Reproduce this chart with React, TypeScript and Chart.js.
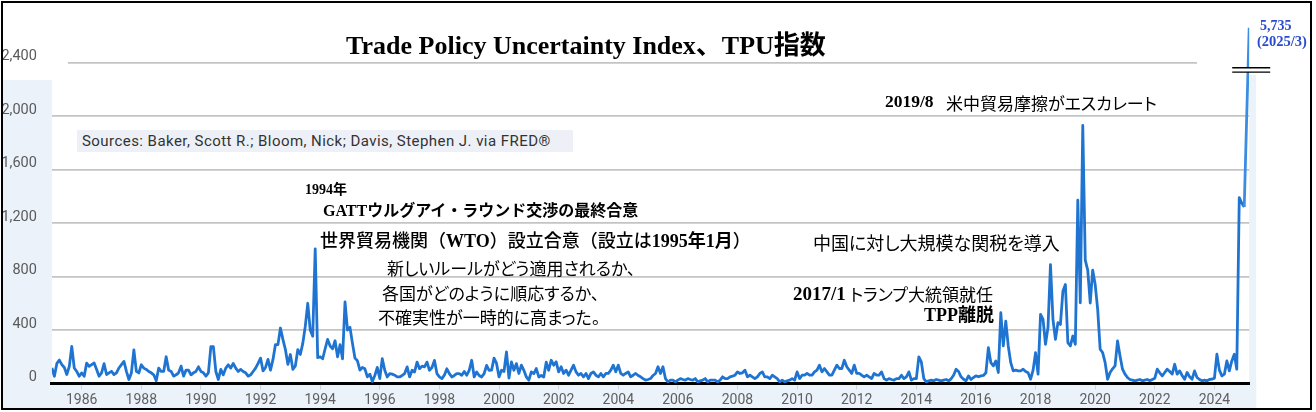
import React, { useEffect, useRef } from "react";
import { Chart, registerables } from "chart.js";

Chart.register(...registerables);

// ---- Data: monthly Trade Policy Uncertainty index ----
const START_YEAR = 1985;
const Y1985 = [116, 54, 150, 175, 141, 120, 67, 128, 277, 116, 90, 54];
const Y1986 = [79, 54, 153, 128, 141, 153, 104, 54, 79, 148, 67, 79];
const Y1987 = [91, 67, 79, 116, 141, 165, 91, 30, 79, 252, 91, 79];
const Y1988 = [140, 115, 105, 90, 80, 65, 20, 115, 90, 90, 200, 100];
const Y1989 = [90, 55, 65, 80, 130, 55, 100, 100, 65, 80, 90, 125];
const Y1990 = [90, 80, 55, 80, 275, 275, 90, 30, 105, 65, 115, 140];
const Y1991 = [115, 150, 115, 90, 105, 90, 80, 55, 65, 90, 115, 150];
const Y1992 = [190, 94, 120, 180, 100, 180, 291, 291, 415, 330, 254, 143];
const Y1993 = [217, 106, 131, 254, 217, 300, 427, 600, 400, 353, 1007, 193];
const Y1994 = [200, 185, 260, 330, 280, 260, 320, 200, 290, 185, 610, 400];
const Y1995 = [420, 300, 190, 170, 100, 120, 110, 50, 70, 15, 60, 120];
const Y1996 = [37, 185, 99, 49, 74, 70, 62, 49, 49, 60, 74, 124];
const Y1997 = [49, 99, 86, 160, 111, 130, 124, 160, 99, 120, 173, 74];
const Y1998 = [49, 37, 62, 110, 74, 49, 60, 74, 74, 62, 90, 62];
const Y1999 = [99, 174, 49, 86, 60, 49, 74, 136, 99, 100, 190, 150];
const Y2000 = [49, 99, 90, 237, 40, 162, 99, 149, 75, 137, 99, 49];
const Y2001 = [25, 87, 74, 112, 49, 60, 49, 160, 99, 174, 137, 162];
const Y2002 = [87, 125, 75, 100, 62, 100, 137, 87, 62, 75, 50, 75];
const Y2003 = [37, 75, 87, 62, 50, 75, 50, 75, 75, 100, 137, 87];
const Y2004 = [137, 75, 62, 75, 87, 50, 62, 75, 60, 50, 37, 25];
const Y2005 = [30, 37, 60, 75, 125, 75, 125, 37, 12, 25, 25, 12];
const Y2006 = [25, 37, 30, 25, 37, 30, 25, 37, 12, 20, 25, 37];
const Y2007 = [12, 25, 25, 25, 12, 25, 50, 37, 37, 50, 55, 62];
const Y2008 = [87, 75, 80, 100, 50, 62, 50, 37, 50, 75, 87, 50];
const Y2009 = [50, 37, 62, 50, 37, 12, 25, 12, 20, 25, 37, 25];
const Y2010 = [87, 37, 62, 62, 75, 62, 62, 87, 100, 137, 87, 112];
const Y2011 = [87, 62, 62, 100, 137, 112, 112, 174, 125, 100, 75, 137];
const Y2012 = [75, 75, 62, 50, 62, 50, 37, 75, 62, 62, 87, 37];
const Y2013 = [25, 37, 30, 25, 37, 37, 62, 37, 50, 87, 25, 37];
const Y2014 = [37, 199, 162, 37, 12, 20, 25, 20, 30, 25, 20, 25];
const Y2015 = [30, 20, 35, 62, 107, 90, 50, 32, 20, 57, 30, 45];
const Y2016 = [57, 50, 57, 60, 80, 268, 156, 132, 169, 82, 529, 281];
const Y2017 = [467, 281, 156, 94, 100, 95, 94, 107, 90, 80, 32, 100];
const Y2018 = [231, 70, 517, 479, 293, 420, 889, 479, 330, 455, 442, 690];
const Y2019 = [740, 305, 281, 355, 293, 1372, 604, 1930, 923, 848, 602, 848];
const Y2020 = [740, 554, 256, 231, 156, 32, 82, 110, 132, 318, 206, 107];
const Y2021 = [70, 45, 30, 25, 20, 25, 30, 20, 25, 30, 20, 30];
const Y2022 = [40, 107, 80, 57, 82, 107, 90, 70, 144, 70, 94, 60];
const Y2023 = [32, 82, 50, 32, 94, 45, 30, 20, 25, 20, 30, 32];
const Y2024 = [40, 219, 100, 57, 70, 169, 94, 169, 219, 107, 1390, 1350];
const Y2025 = [1320, 2000, 5735];

const TPU_VALUES: number[] = ([] as number[]).concat(
  Y1985, Y1986, Y1987, Y1988, Y1989, Y1990, Y1991, Y1992, Y1993, Y1994,
  Y1995, Y1996, Y1997, Y1998, Y1999, Y2000, Y2001, Y2002, Y2003, Y2004,
  Y2005, Y2006, Y2007, Y2008, Y2009, Y2010, Y2011, Y2012, Y2013, Y2014,
  Y2015, Y2016, Y2017, Y2018, Y2019, Y2020, Y2021, Y2022, Y2023, Y2024,
  Y2025
);

const X_TICK_YEARS = [1986, 1988, 1990, 1992, 1994, 1996, 1998, 2000, 2002, 2004, 2006, 2008, 2010, 2012, 2014, 2016, 2018, 2020, 2022, 2024];
const Y_TICK_VALUES = [0, 400, 800, 1200, 1600, 2000, 2400];

// broken axis: values above BREAK_AT are compressed
const BREAK_AT = 2300;
const BREAK_SCALE = 0.105;
const BREAK_MARK_VALUE = 2345;
const Y_MAX = 2750;

const LAST_VALUE_LABEL = "5,735";
const LAST_DATE_LABEL = "(2025/3)";

const displayValue = (v: number) => (v <= BREAK_AT ? v : BREAK_AT + (v - BREAK_AT) * BREAK_SCALE);

const W = 1316;
const H = 412;

const bandsPlugin = {
  id: "bands",
  beforeDraw(chart: any) {
    const ctx = chart.ctx;
    ctx.save();
    ctx.fillStyle = "#ffffff";
    ctx.fillRect(0, 0, W, H);
    ctx.fillStyle = "#ebf2fa";
    const ca = chart.chartArea;
    ctx.fillRect(3, 80, ca.left - 3, H - 83);
    ctx.fillRect(3, ca.bottom, ca.right + 7 - 3, H - 3 - ca.bottom);
    ctx.fillRect(ca.right, 75, 7, H - 78);
    ctx.restore();
  },
  beforeDatasetsDraw(chart: any) {
    const ctx = chart.ctx;
    const ca = chart.chartArea;
    const y2400 = chart.scales.y.getPixelForValue(2400);
    ctx.save();
    ctx.fillStyle = "#ffffff";
    ctx.fillRect(ca.left - 1, y2400 - 4, 17, 8);
    ctx.fillRect(1197, y2400 - 4, ca.right - 1197 + 1, 8);
    ctx.restore();
  },
  afterDatasetsDraw(chart: any) {
    const ctx = chart.ctx;
    const xs = chart.scales.x;
    const ys = chart.scales.y;
    const lastX = xs.getPixelForValue(START_YEAR + (TPU_VALUES.length - 1) / 12);
    const yMid = ys.getPixelForValue(BREAK_MARK_VALUE);
    ctx.save();
    ctx.fillStyle = "#ffffff";
    ctx.fillRect(lastX - 17, yMid - 2, 38, 4);
    ctx.strokeStyle = "#000000";
    ctx.lineWidth = 1.3;
    ctx.beginPath();
    ctx.moveTo(lastX - 17, yMid - 2.2);
    ctx.lineTo(lastX + 21, yMid - 2.2);
    ctx.moveTo(lastX - 17, yMid + 2.2);
    ctx.lineTo(lastX + 21, yMid + 2.2);
    ctx.stroke();
    ctx.restore();
  },
  afterDraw(chart: any) {
    const ctx = chart.ctx;
    ctx.save();
    ctx.strokeStyle = "#000000";
    ctx.lineWidth = 2;
    ctx.strokeRect(2, 2, 1309, 407);
    ctx.restore();
  },
};

const SERIF = '"Liberation Serif", "Times New Roman", "Noto Sans CJK JP", serif';
const JP = '"Noto Sans CJK JP", sans-serif';

function Txt(props: {
  left?: number;
  right?: number;
  cy: number;
  size: number;
  palt?: boolean;
  style?: React.CSSProperties;
  children: React.ReactNode;
}) {
  const { left, right, cy, size, style, children, palt = true } = props;
  return (
    <div
      style={{
        position: "absolute",
        left,
        right,
        top: cy - size / 2,
        fontSize: size,
        lineHeight: `${size}px`,
        whiteSpace: "nowrap",
        color: "#000",
        fontFeatureSettings: palt ? '"palt"' : "normal",
        ...style,
      }}
    >
      {children}
    </div>
  );
}

export default function App() {
  const canvasRef = useRef<HTMLCanvasElement | null>(null);

  useEffect(() => {
    if (!canvasRef.current) return;
    const points = TPU_VALUES.map((v, i) => ({ x: START_YEAR + i / 12, y: displayValue(v) }));
    const n = TPU_VALUES.length;
    const chart = new Chart(canvasRef.current, {
      type: "line",
      data: {
        datasets: [
          {
            data: points,
            borderColor: "#1f74d1",
            borderWidth: 2.8,
            pointRadius: 0,
            tension: 0,
            fill: false,
            borderJoinStyle: "round",
            segment: {
              borderColor: (c: any) => (c.p0DataIndex >= n - 3 ? "#3a8de3" : undefined),
            },
          } as any,
        ],
      },
      options: {
        responsive: false,
        animation: false,
        devicePixelRatio: 1,
        layout: { padding: { left: 0, right: W - 1249.2, top: 15.8, bottom: 0 } },
        plugins: {
          legend: { display: false },
          tooltip: { enabled: false },
          title: { display: false },
        },
        scales: {
          x: {
            type: "linear",
            min: START_YEAR,
            max: START_YEAR + (n - 1) / 12,
            afterBuildTicks: (s: any) => {
              s.ticks = X_TICK_YEARS.map((v) => ({ value: v }));
            },
            afterFit: (s: any) => {
              s.height = H - 383.5;
              s.paddingLeft = 0;
              s.paddingRight = 0;
            },
            grid: { drawOnChartArea: false, drawTicks: true, tickLength: 6, color: "#d4d4d4" },
            border: { display: true, color: "#000000", width: 3 },
            ticks: {
              callback: (v: any) => String(v),
              font: { family: "Roboto", size: 14 },
              color: "#5f5f5f",
              padding: 3,
              maxRotation: 0,
              autoSkip: false,
            },
          },
          y: {
            min: 0,
            max: Y_MAX,
            afterBuildTicks: (s: any) => {
              s.ticks = Y_TICK_VALUES.map((v) => ({ value: v }));
            },
            afterFit: (s: any) => {
              s.width = 51.9;
              s.paddingTop = 0;
              s.paddingBottom = 0;
            },
            grid: { drawTicks: false, color: "#c4c4c4", lineWidth: 1.8 },
            border: { display: false },
            ticks: {
              callback: (v: any) => Number(v).toLocaleString("en-US"),
              font: { family: "Roboto", size: 14.5 },
              color: "#5a5a5a",
              padding: 15,
              labelOffset: -6,
            },
          },
        },
      } as any,
      plugins: [bandsPlugin as any],
    });
    return () => chart.destroy();
  }, []);

  return (
    <div style={{ position: "fixed", left: 0, top: 0, width: W, height: H, background: "#fff", overflow: "hidden" }}>
      <canvas ref={canvasRef} width={W} height={H} style={{ position: "absolute", left: 0, top: 0, width: W, height: H }} />

      {/* Title */}
      <div
        style={{
          position: "absolute",
          left: 586,
          top: 33,
          transform: "translateX(-50%)",
          fontFamily: SERIF,
          fontWeight: 700,
          fontSize: 26,
          lineHeight: "26px",
          whiteSpace: "nowrap",
          color: "#000",
        }}
      >
        Trade Policy Uncertainty Index、TPU指数
      </div>

      {/* Sources box */}
      <div
        style={{
          position: "absolute",
          left: 77,
          top: 130,
          width: 496,
          height: 22,
          background: "#edf1f7",
          fontFamily: "Roboto, sans-serif",
          fontSize: 15,
          letterSpacing: 0.45,
          lineHeight: "22px",
          color: "#333",
          paddingLeft: 5,
          boxSizing: "border-box",
          whiteSpace: "nowrap",
        }}
      >
        Sources: Baker, Scott R.; Bloom, Nick; Davis, Stephen J. via FRED®
      </div>

      {/* 1994 annotations */}
      <Txt left={305} cy={190} size={14} style={{ fontFamily: SERIF, fontWeight: 700 }}>
        1994年
      </Txt>
      <Txt left={323} cy={211} size={16} palt={false} style={{ fontFamily: SERIF, fontWeight: 700 }}>
        GATTウルグアイ・ラウンド交渉の最終合意
      </Txt>
      <Txt left={320} cy={239} size={18} palt={false} style={{ fontFamily: JP, fontWeight: 500 }}>
        世界貿易機関（<span style={{ fontFamily: SERIF, fontWeight: 700 }}>WTO</span>）設立合意（設立は
        <span style={{ fontFamily: SERIF, fontWeight: 700 }}>1995</span>
        <span style={{ fontWeight: 700 }}>年</span>
        <span style={{ fontFamily: SERIF, fontWeight: 700 }}>1</span>
        <span style={{ fontWeight: 700 }}>月</span>）
      </Txt>
      <Txt left={387} cy={267} size={17} style={{ fontFamily: JP }}>
        新しいルールがどう適用されるか、
      </Txt>
      <Txt left={382} cy={292} size={17} style={{ fontFamily: JP }}>
        各国がどのように順応するか、
      </Txt>
      <Txt left={378} cy={316} size={17} style={{ fontFamily: JP }}>
        不確実性が一時的に高まった。
      </Txt>

      {/* 2019 annotation */}
      <Txt left={885} cy={102} size={17.5} style={{ fontFamily: SERIF, fontWeight: 700 }}>
        2019/8
      </Txt>
      <Txt left={946} cy={102} size={17} style={{ fontFamily: JP }}>
        米中貿易摩擦がエスカレート
      </Txt>

      {/* 2018 annotation */}
      <Txt left={813} cy={242} size={18} style={{ fontFamily: JP }}>
        中国に対し大規模な関税を導入
      </Txt>

      {/* 2017 annotation */}
      <Txt left={793} cy={293} size={19} style={{ fontFamily: SERIF, fontWeight: 700 }}>
        2017/1
      </Txt>
      <Txt left={850} cy={293} size={17} style={{ fontFamily: JP }}>
        トランプ大統領就任
      </Txt>
      <Txt right={W - 994} cy={315} size={18} style={{ fontFamily: SERIF, fontWeight: 700 }}>
        TPP離脱
      </Txt>

      {/* Last value label */}
      <Txt left={1260} cy={26} size={14} style={{ fontFamily: SERIF, fontWeight: 700, color: "#2a4bd0" }}>
        {LAST_VALUE_LABEL}
      </Txt>
      <Txt left={1257} cy={41.5} size={14.5} style={{ fontFamily: SERIF, fontWeight: 700, color: "#2a4bd0" }}>
        {LAST_DATE_LABEL}
      </Txt>
    </div>
  );
}
